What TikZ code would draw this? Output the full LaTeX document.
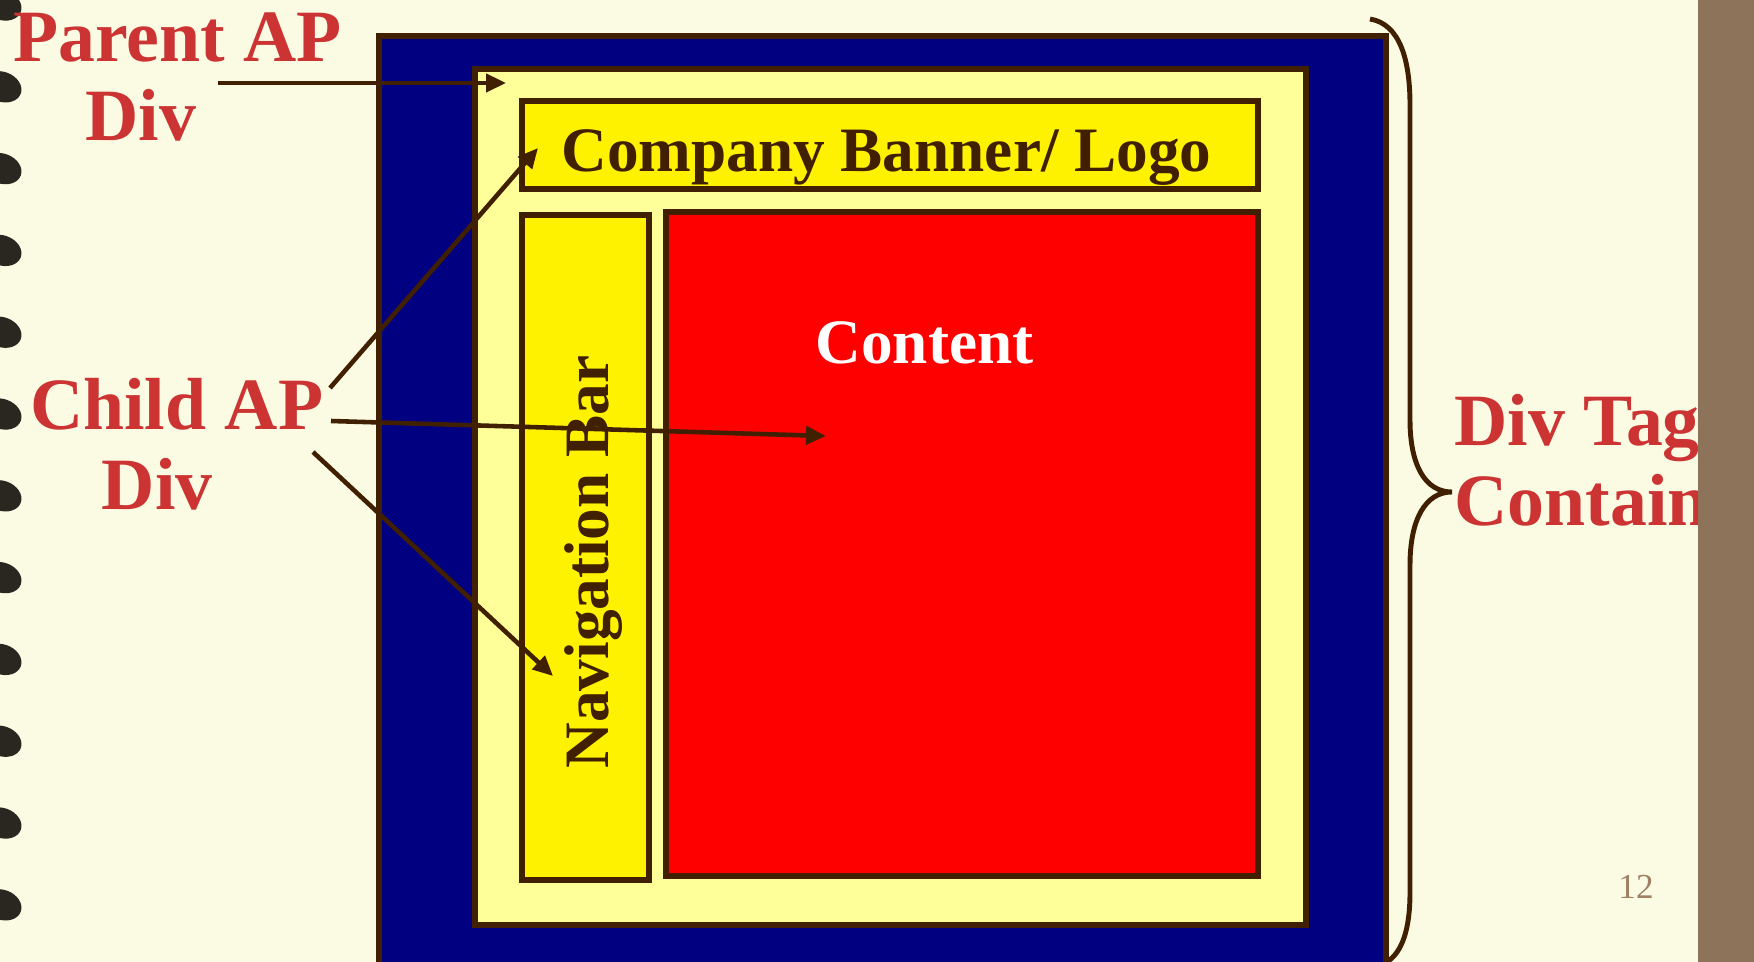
\documentclass[tikz,border=0pt]{standalone}
\usepackage{fontspec}
\setmainfont{Liberation Serif}
\usetikzlibrary{arrows.meta,fit}

\definecolor{slidebg}{RGB}{251,251,228}
\definecolor{edge}{RGB}{64,32,0}
\definecolor{navy}{RGB}{0,0,128}
\definecolor{paleyellow}{RGB}{255,255,153}
\definecolor{labelred}{RGB}{204,51,51}
\definecolor{stripbrown}{RGB}{140,115,90}
\definecolor{pagenum}{RGB}{160,128,100}
\definecolor{ringdark}{RGB}{42,38,32}

\begin{document}
\begin{tikzpicture}[x=0.02cm,y=-0.02cm,
    >={Triangle[length=0.4cm,width=0.36cm]},
    box/.style={draw=edge,line width=3.3pt,inner sep=0pt},
    redtext/.style={text=labelred,font=\fontsize{42}{45.5}\selectfont\bfseries,inner sep=0pt},
    inside/.style={text=edge,font=\fontsize{36}{40}\selectfont\bfseries,inner sep=0pt},
    pointer/.style={draw=edge,line width=2.6pt,->}]
    \useasboundingbox (0,0) rectangle (1754,962);
    \fill[slidebg] (0,0) rectangle (1754,962);
    % binder rings
    \foreach \k in {0,...,11}
        \fill[ringdark,rotate around={-20:(2,5+81.8*\k)}] (2,5+81.8*\k) ellipse [x radius=0.4cm,y radius=0.3cm];

    % nested div boxes
    \node[box,fill=navy,fit={(379,36) (1386,975)}] (page) {};
    \node[box,fill=paleyellow,fit={(475,69) (1306,925)}] (parent div) {};
    \node[box,fill=yellow,fit={(522,101) (1258,189)}] (banner) {};
    \node[box,fill=yellow,fit={(522,215) (649,880)}] (nav) {};
    \node[box,fill=red,fit={(666,212) (1258,876)}] (content) {};
    \node[inside,anchor=base] (banner text) at (886.5,172) {Company Banner/ Logo};
    \node[inside,anchor=base,rotate=90] (nav text) at (608,562) {Navigation Bar};
    \node[inside,text=white,anchor=base] (content text) at (924.5,364) {Content};

    % labels
    \node[redtext,align=center,anchor=base] (parent) at (177.5,141) {Parent AP\\\hspace*{-1.46cm}Div};
    \node[redtext,align=center,anchor=base] (child) at (176.6,509) {Child AP\\\hspace*{-0.78cm}Div};
    \node[redtext,align=left,anchor=base west] (container) at (1454,525) {Div Tag\\Container};

    % pointers
    \coordinate (parent tail) at (218,83);
    \coordinate (parent tip) at (506,83);
    \coordinate (child tail a) at (330,388);
    \coordinate (child tail b) at (331,421);
    \coordinate (child tail c) at (313,452);
    \coordinate (banner tip) at (538,148);
    \coordinate (content tip) at (826,436);
    \coordinate (nav tip) at (553,676);
    \draw[pointer] (parent tail) -- (parent tip);
    \draw[pointer] (child tail a) -- (banner tip);
    \draw[pointer] (child tail b) -- (content tip);
    \draw[pointer] (child tail c) -- (nav tip);

    % brace
    \draw[edge,line width=2.8pt] (1370,19) .. controls (1400,24) and (1410,60) .. (1410,105)
        -- (1410,420) .. controls (1410,465) and (1425,492) .. (1452,492)
        .. controls (1425,492) and (1410,520) .. (1410,565)
        -- (1410,892) .. controls (1410,930) and (1402,952) .. (1387,962);

    % right strip and page number
    \fill[stripbrown] (1698,0) rectangle (1754,962);
    \node[text=pagenum,font=\fontsize{20}{24}\selectfont,anchor=base] (page number) at (1636,898) {12};
\end{tikzpicture}
\end{document}
